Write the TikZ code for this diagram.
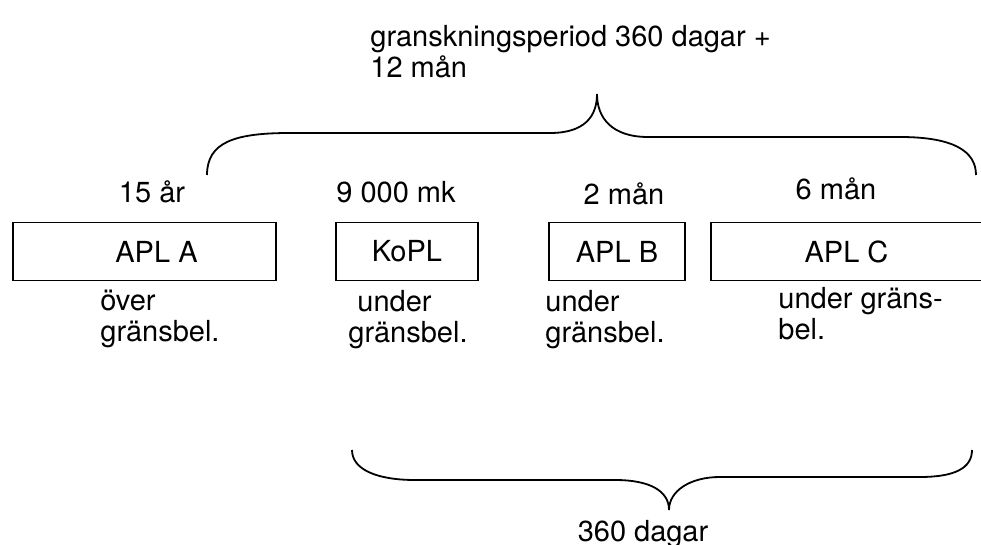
\documentclass[tikz,border=0pt]{standalone}
\usepackage{fontspec}
\setmainfont{TeX Gyre Heros}

\begin{document}
\begin{tikzpicture}[x=0.5pt,y=-0.5pt,
font=\fontsize{14.5}{15.5}\selectfont,
boxnode/.style={draw, line width=0.9pt, minimum height=29pt, inner sep=0pt},
txtnode/.style={align=left, inner sep=0pt},
brace/.style={line width=0.9pt},
]
\useasboundingbox (0,0) rectangle (981,545);
%Nodes
\node[txtnode, anchor=north west] (head) at (370,25) {granskningsperiod 360 dagar +\\12 mån};

\node[anchor=base] (a) at (152,203) {15 år};
\node[anchor=base] (b) at (396,203) {9 000 mk};
\node[anchor=base] (c) at (624,205) {2 mån};
\node[anchor=base] (d) at (836,200) {6 mån};

\node[boxnode, minimum width=131.5pt] (A) at (144.5,251.5) {\hspace{12pt}APL A};
\node[boxnode, minimum width=71pt]    (K) at (407,251.5) {KoPL\hspace{12pt}};
\node[boxnode, minimum width=68pt]    (B) at (617,251.5) {APL B};
\node[boxnode, minimum width=135.5pt] (C) at (846.5,251.5) {APL C\hspace{12pt}};

\node[txtnode, anchor=north west] (ga) at (100,290) {över\\gränsbel.};
\node[txtnode, anchor=north west] (gk) at (348,290) {\hspace{4.5pt}under\\gränsbel.};
\node[txtnode, anchor=north west] (gb) at (545,290) {under\\gränsbel.};
\node[txtnode, anchor=north west] (gc) at (778,287) {under gräns-\\bel.};

\node[anchor=base] (sum) at (643,541) {360 dagar};

%Braces
\draw[brace] (207,175) .. controls (207,142) and (235,133) .. (290,133) -- (550,133)
  .. controls (585,133) and (597,116) .. (597,94)
  .. controls (597,118) and (612,137) .. (648,137) -- (900,137)
  .. controls (955,137) and (976,152) .. (976,175);
\draw[brace] (352,450) .. controls (352,470) and (378,480) .. (415,480) -- (615,480)
  .. controls (650,480) and (669,491) .. (669,510)
  .. controls (669,491) and (690,477) .. (720,477) -- (920,477)
  .. controls (955,477) and (972,468) .. (972,450);

\end{tikzpicture}
\end{document}
